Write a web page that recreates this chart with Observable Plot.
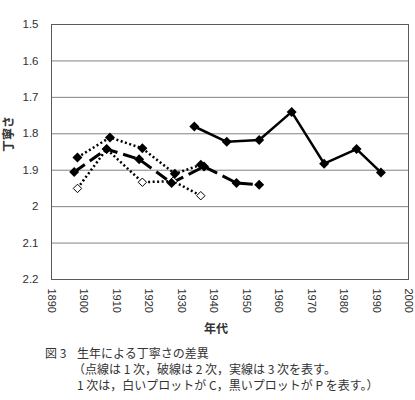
<!DOCTYPE html>
<html>
<head>
<meta charset="utf-8">
<script src="https://cdn.jsdelivr.net/npm/d3@7"></script>
<script src="https://cdn.jsdelivr.net/npm/@observablehq/plot@0.6"></script>
<style>
  html, body { margin: 0; padding: 0; background: #fff; }
  #wrap { position: relative; width: 415px; height: 400px; }
  #cap { position: absolute; left: 0; top: 345px; font-family: "Noto Sans CJK JP", sans-serif; font-size: 12px; line-height: 16px; color: #333; white-space: nowrap; }
</style>
</head>
<body>
<div id="wrap"><div id="chart"></div><div id="cap"></div></div>
<script>
// ---- data ----
const xTicks = [1890, 1900, 1910, 1920, 1930, 1940, 1950, 1960, 1970, 1980, 1990, 2000];
const yTicks = [1.5, 1.6, 1.7, 1.8, 1.9, 2.0, 2.1, 2.2];

// 1次 (dotted), P = black plots
const dotP_year = [1898, 1908, 1918, 1928, 1936];
const dotP_val  = [1.865, 1.81, 1.84, 1.91, 1.885];
// 1次 (dotted), C = white plots
const dotC_year = [1898, 1907, 1918, 1927.5, 1936];
const dotC_val  = [1.95, 1.842, 1.933, 1.93, 1.97];
// 2次 (dashed)
const dash_year = [1897, 1907, 1917, 1927, 1937, 1947, 1954];
const dash_val  = [1.905, 1.842, 1.87, 1.935, 1.89, 1.935, 1.94];
// 3次 (solid)
const solid_year = [1934, 1944, 1954, 1964, 1974, 1984, 1991.5];
const solid_val  = [1.78, 1.822, 1.817, 1.74, 1.882, 1.842, 1.906];

const xLabel = "年代";
const yLabel = "丁寧さ";
const captionLines = [
  "図 3",
  "生年による丁寧さの差異",
  "（点線は 1 次，破線は 2 次，実線は 3 次を表す。",
  "1 次は，白いプロットが C，黒いプロットが P を表す。）"
];

const tickFont = "'Liberation Sans', Arial, sans-serif";
const jpFont = "'Noto Sans CJK JP', sans-serif";
const fmtY = d => String(+d.toFixed(1));

const chart = Plot.plot({
  width: 415,
  height: 340,
  marginTop: 24,
  marginLeft: 51,
  marginRight: 7,
  marginBottom: 61,
  style: { fontFamily: tickFont, background: "#fff" },
  x: { domain: [1890, 2000] },
  y: { domain: [1.5, 2.2], reverse: true },
  marks: [
    Plot.gridY(yTicks, { stroke: "#828282", strokeOpacity: 1, strokeWidth: 1 }),
    Plot.frame({ stroke: "#5a5a5a", strokeWidth: 1 }),
    Plot.axisY(yTicks, { tickSize: 0, tickPadding: 13, tickFormat: fmtY, fontSize: 11.5, fill: "#303030", label: null }),
    Plot.axisX(xTicks, { tickSize: 0, tickPadding: 9, tickRotate: 90, tickFormat: d => String(d), fontSize: 11, fill: "#303030", label: null }),
    Plot.text([yLabel], { frameAnchor: "left", dx: -42, rotate: -90, text: d => d, fontFamily: jpFont, fontWeight: "bold", fontSize: 12, fill: "#333" }),
    Plot.text([xLabel], { frameAnchor: "bottom", dx: -14, dy: 53, text: d => d, fontFamily: jpFont, fontWeight: "bold", fontSize: 12, fill: "#333" }),
    // lines
    Plot.line(dotC_year, { x: dotC_year, y: dotC_val, stroke: "#000", strokeWidth: 2.5, strokeDasharray: "2,2.5", strokeLinecap: "butt" }),
    Plot.line(dotP_year, { x: dotP_year, y: dotP_val, stroke: "#000", strokeWidth: 2.5, strokeDasharray: "2,2.5", strokeLinecap: "butt" }),
    Plot.line(dash_year, { x: dash_year, y: dash_val, stroke: "#000", strokeWidth: 3, strokeDasharray: "13,6", strokeLinecap: "butt" }),
    Plot.line(solid_year, { x: solid_year, y: solid_val, stroke: "#000", strokeWidth: 2.5 }),
    // markers
    Plot.dot(dotC_year, { x: dotC_year, y: dotC_val, symbol: "diamond2", r: 3.8, fill: "#fff", stroke: "#000", strokeWidth: 1 }),
    Plot.dot(dotP_year, { x: dotP_year, y: dotP_val, symbol: "diamond2", r: 4.5, fill: "#000", stroke: "none" }),
    Plot.dot(dash_year, { x: dash_year, y: dash_val, symbol: "diamond2", r: 4.5, fill: "#000", stroke: "none" }),
    Plot.dot(solid_year, { x: solid_year, y: solid_val, symbol: "diamond2", r: 4.5, fill: "#000", stroke: "none" })
  ]
});
document.getElementById("chart").appendChild(chart);

const cap = document.getElementById("cap");
cap.innerHTML =
  `<div><span style="display:inline-block;margin-left:45px;width:32px">${captionLines[0]}</span>${captionLines[1]}</div>` +
  `<div style="margin-left:73px">${captionLines[2]}</div>` +
  `<div style="margin-left:77px">${captionLines[3]}</div>`;
</script>
</body>
</html>
